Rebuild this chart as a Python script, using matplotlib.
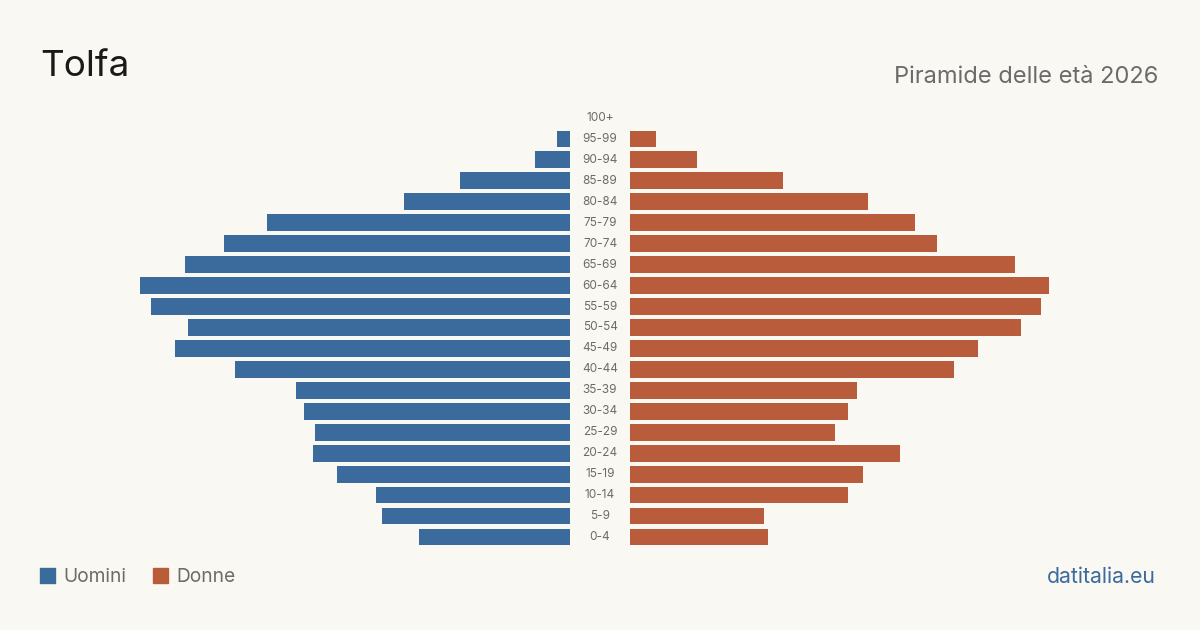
import matplotlib.pyplot as plt
from matplotlib.patches import Rectangle

plt.rcParams["font.family"] = ["Inter", "DejaVu Sans"]

ages = ["0-4", "5-9", "10-14", "15-19", "20-24", "25-29", "30-34", "35-39",
        "40-44", "45-49", "50-54", "55-59", "60-64", "65-69", "70-74",
        "75-79", "80-84", "85-89", "90-94", "95-99", "100+"]
uomini = [151, 188, 194, 233, 257, 255, 266, 274, 335, 395, 382, 419,
          430, 385, 346, 303, 166, 110, 35, 13, 0]
donne = [138, 134, 218, 233, 270, 205, 218, 227, 324, 348, 391, 411,
         419, 385, 307, 285, 238, 153, 67, 26, 0]

blue = "#3b6a9c"
orange = "#b95c3b"
bg = "#f9f8f3"
grey = "#6b6b6b"
gap = 30

fig = plt.figure(figsize=(12, 6.3), dpi=100, facecolor=bg)
ax = fig.add_axes([0, 0, 1, 1])
ax.set_facecolor(bg)
ax.set_xlim(-600, 600)
ax.set_ylim(-4.44, 25.63)
ax.axis("off")

y = range(len(ages))
ax.barh(y, [-v for v in uomini], left=-gap, height=0.8, color=blue)
ax.barh(y, donne, left=gap, height=0.8, color=orange)
for i, a in enumerate(ages):
    ax.text(0, i, a, ha="center", va="center", fontsize=8.5, color=grey)

fig.text(40 / 1200, 1 - 67 / 630, "Tolfa", fontsize=26.5, color="#1a1a1a",
         ha="left", va="center")
fig.text(1158 / 1200, 1 - 77 / 630, "Piramide delle età 2026", fontsize=17,
         color=grey, ha="right", va="center")

# legenda
for x0, lab, col in [(40, "Uomini", blue), (153, "Donne", orange)]:
    fig.patches.append(Rectangle((x0 / 1200, 1 - 583 / 630), 15 / 1200, 15 / 630,
                                 transform=fig.transFigure, color=col))
    fig.text((x0 + 23) / 1200, 1 - 577 / 630, lab, fontsize=13.8, color=grey,
             ha="left", va="center")

fig.text(1156 / 1200, 1 - 577 / 630, "datitalia.eu", fontsize=15.3, color=blue,
         ha="right", va="center")

fig.savefig("out.png", dpi=100, facecolor=bg)
